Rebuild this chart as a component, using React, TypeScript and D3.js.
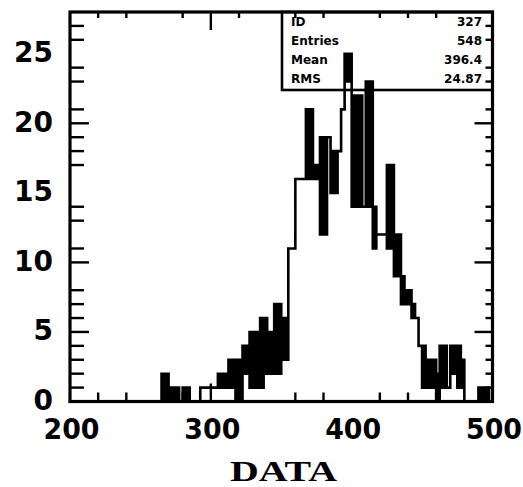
import React from "react";
import * as d3 from "d3";

// ---------------- data ----------------
const xDomain = [200, 500];
const yDomain = [0, 28];
const binStart = 200;
const binWidth = 2.5;
// envelope of bin contents (low / high) for 120 bins of width 2.5
const binLow = [
  0, 0, 0, 0, 0, 0, 0, 0, 0, 0,
  0, 0, 0, 0, 0, 0, 0, 0, 0, 0,
  0, 0, 0, 0, 0, 0, 0, 0, 0, 0,
  0, 0, 0, 0, 0, 0, 0, 1, 1, 1,
  1, 1, 1, 1, 1, 1, 1, 0, 0, 2,
  2, 1, 1, 1, 1, 2, 2, 2, 2, 2,
  3, 3, 11, 11, 16, 16, 16, 16, 16, 16,
  16, 12, 12, 19, 15, 15, 18, 21, 23, 23,
  14, 14, 14, 14, 14, 14, 11, 12, 12, 12,
  11, 11, 9, 9, 7, 7, 7, 6, 6, 4,
  1, 1, 1, 1, 0, 1, 1, 1, 2, 2,
  1, 1, 0, 0, 0, 0, 0, 0, 0, 0,
];
const binHigh = [
  0, 0, 0, 0, 0, 0, 0, 0, 0, 0,
  0, 0, 0, 0, 0, 0, 0, 0, 0, 0,
  0, 0, 0, 0, 0, 0, 2, 2, 1, 1,
  1, 0, 1, 1, 0, 0, 0, 1, 1, 1,
  1, 1, 2, 2, 2, 3, 3, 3, 3, 4,
  4, 5, 5, 5, 6, 6, 5, 5, 7, 7,
  6, 6, 11, 11, 16, 16, 16, 21, 21, 17,
  17, 19, 19, 19, 18, 18, 18, 21, 25, 25,
  22, 22, 22, 14, 23, 23, 14, 12, 12, 12,
  17, 17, 12, 12, 9, 8, 8, 7, 6, 4,
  4, 3, 3, 3, 2, 4, 4, 1, 4, 4,
  4, 3, 0, 0, 0, 0, 1, 1, 1, 0,
];
const xLabels = [200, 300, 400, 500];
const yLabels = [0, 5, 10, 15, 20, 25];
// tick marks as they appear in the picture
const xMajorTicks = [300];
const xMinorTicks = [220, 240, 280, 320, 360, 380, 420, 440, 460];
const yMajorTicks = [5, 10, 20];
const yMinorTicks = [1, 2, 3, 4, 6, 7, 8, 11, 13, 14, 17, 18, 19, 21, 23, 24, 26, 27];
const statLabels = ["ID", "Entries", "Mean", "RMS"];
const statValues = ["327", "548", "396.4", "24.87"];
const xTitle = "DATA";

// ---------------- layout ----------------
const W = 523;
const H = 487;
const L = 70;
const R = 492.5;
const T = 12;
const B = 401.5;

export default function App() {
  const x = d3.scaleLinear().domain(xDomain).range([L, R]);
  const y = d3.scaleLinear().domain(yDomain).range([B, T]);

  const bins = binLow.map((lo, i) => ({
    x0: binStart + i * binWidth,
    x1: binStart + (i + 1) * binWidth,
    lo,
    hi: binHigh[i],
  }));

  const p = d3.path();
  bins.forEach((b) => {
    p.moveTo(x(b.x0), y(b.lo));
    p.lineTo(x(b.x1), y(b.lo));
    if (b.hi !== b.lo) {
      p.moveTo(x(b.x0), y(b.hi));
      p.lineTo(x(b.x1), y(b.hi));
    }
  });
  for (let i = 0; i < bins.length - 1; i++) {
    const a = bins[i];
    const c = bins[i + 1];
    const lo = Math.min(a.lo, c.lo);
    const hi = Math.max(a.hi, c.hi);
    if (hi > lo) {
      p.moveTo(x(a.x1), y(lo));
      p.lineTo(x(a.x1), y(hi));
    }
  }

  const sw = 2.6;
  const labelFont = "'DejaVu Sans', sans-serif";

  return (
    <svg
      width={W}
      height={H}
      style={{ position: "absolute", left: 0, top: 0, background: "#fff" }}
    >
      <rect x={0} y={0} width={W} height={H} fill="#fff" />
      {/* filled envelopes */}
      {bins
        .filter((b) => b.hi > b.lo)
        .map((b, i) => (
          <rect
            key={i}
            x={x(b.x0)}
            y={y(b.hi)}
            width={x(b.x1) - x(b.x0)}
            height={y(b.lo) - y(b.hi)}
            fill="#000"
          />
        ))}
      <path d={p.toString()} fill="none" stroke="#000" strokeWidth={sw} strokeLinecap="square" />

      {/* stats box */}
      <rect x={282} y={T} width={R - 282} height={90 - T} fill="none" stroke="#000" strokeWidth={2.6} />
      {statLabels.map((s, i) => (
        <text
          key={s}
          x={291}
          y={22 + i * 19}
          dominantBaseline="central"
          fontFamily={labelFont}
          fontWeight="bold"
          fontSize={12}
          fill="#000"
        >
          {s}
        </text>
      ))}
      {statValues.map((s, i) => (
        <text
          key={i}
          x={482}
          y={22 + i * 19}
          textAnchor="end"
          dominantBaseline="central"
          fontFamily={labelFont}
          fontWeight="bold"
          fontSize={12}
          fill="#000"
        >
          {s}
        </text>
      ))}

      {/* ticks */}
      <g stroke="#000" strokeWidth={2.4}>
        {yMinorTicks.map((v) => (
          <g key={"ym" + v}>
            <line x1={L} x2={L + 14} y1={y(v)} y2={y(v)} />
            <line x1={R} x2={R - 7} y1={y(v)} y2={y(v)} />
          </g>
        ))}
        {yMajorTicks.map((v) => (
          <g key={"yM" + v}>
            <line x1={L} x2={L + 19} y1={y(v)} y2={y(v)} />
            <line x1={R} x2={R - 18} y1={y(v)} y2={y(v)} />
          </g>
        ))}
        {xMinorTicks.map((v) => (
          <g key={"xm" + v}>
            <line x1={x(v)} x2={x(v)} y1={B} y2={B - 9} />
            <line x1={x(v)} x2={x(v)} y1={T} y2={T + 6} />
          </g>
        ))}
        {xMajorTicks.map((v) => (
          <g key={"xM" + v}>
            <line x1={x(v)} x2={x(v)} y1={B} y2={B - 18} />
            <line x1={x(v)} x2={x(v)} y1={T} y2={T + 18} />
          </g>
        ))}
      </g>

      {/* frame */}
      <rect x={L} y={T} width={R - L} height={B - T} fill="none" stroke="#000" strokeWidth={3.2} />

      {/* y labels */}
      {yLabels.map((v) => (
        <text
          key={"yl" + v}
          x={53}
          y={y(v) - 1}
          textAnchor="end"
          dominantBaseline="central"
          fontFamily={labelFont}
          fontWeight="bold"
          fontSize={28}
          fill="#000"
        >
          {v}
        </text>
      ))}
      {/* x labels */}
      {xLabels.map((v) => (
        <text
          key={"xl" + v}
          x={x(v) + 1.5}
          y={439}
          textAnchor="middle"
          fontFamily={labelFont}
          fontWeight="bold"
          fontSize={28}
          textLength={56}
          lengthAdjust="spacingAndGlyphs"
          fill="#000"
        >
          {v}
        </text>
      ))}
      <text
        x={283.5}
        y={481}
        textAnchor="middle"
        fontFamily="'Liberation Serif', 'Times New Roman', serif"
        fontWeight="bold"
        fontSize={30}
        textLength={107}
        lengthAdjust="spacingAndGlyphs"
        fill="#000"
      >
        {xTitle}
      </text>
    </svg>
  );
}
